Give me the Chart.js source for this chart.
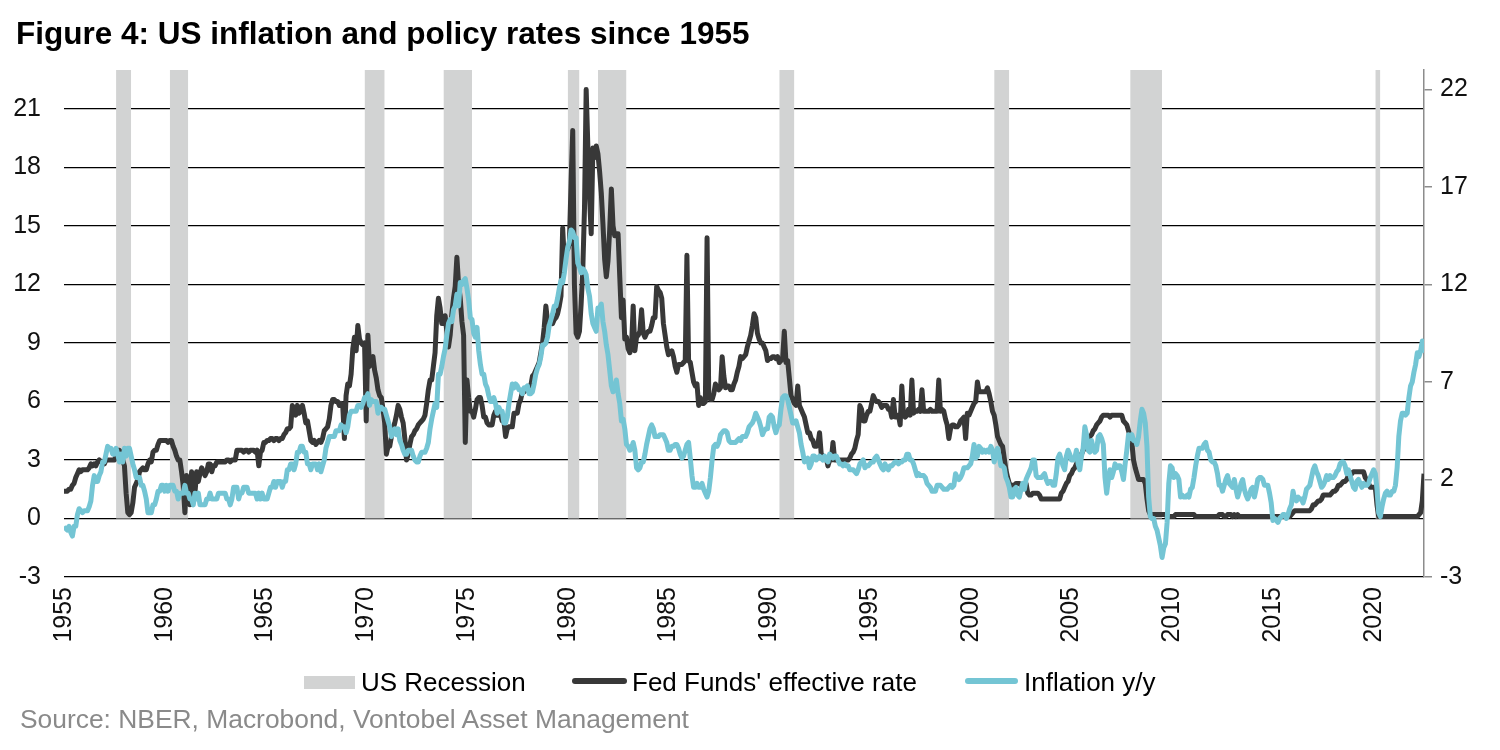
<!DOCTYPE html>
<html>
<head>
<meta charset="utf-8">
<title>US inflation and policy rates since 1955</title>
<script src="https://cdn.jsdelivr.net/npm/chart.js@4.4.0/dist/chart.umd.min.js"></script>
<style>
  body { margin: 0; background: #fff; font-family: 'Liberation Sans', Arial, sans-serif; }
  #wrap { position: relative; width: 1500px; height: 750px; overflow: hidden; }
  #chart { position: absolute; left: 0; top: 0; }
  #title { position: absolute; left: 16px; top: 17px; font-size: 31.5px; line-height: 32px; font-weight: bold; color: #000; white-space: nowrap; }
  .leg { position: absolute; top: 669px; font-size: 26px; line-height: 26px; color: #000; white-space: nowrap; }
  .sw { position: absolute; }
  #source { position: absolute; left: 20px; top: 706px; font-size: 26.4px; line-height: 26px; color: #8a8a8a; white-space: nowrap; }
</style>
</head>
<body>
<div id="wrap">
  <canvas id="chart" width="1500" height="750"></canvas>
  <div id="title">Figure 4: US inflation and policy rates since 1955</div>

  <div class="sw" style="left:304px; top:676px; width:51px; height:13px; background:#d2d3d3;"></div>
  <div class="leg" style="left:361px;">US Recession</div>
  <div class="sw" style="left:572px; top:678px; width:55px; height:6px; border-radius:3px; background:#383838;"></div>
  <div class="leg" style="left:632px;">Fed Funds' effective rate</div>
  <div class="sw" style="left:965px; top:678px; width:53px; height:6px; border-radius:3px; background:#74c5d4;"></div>
  <div class="leg" style="left:1024px;">Inflation y/y</div>

  <div id="source">Source: NBER, Macrobond, Vontobel Asset Management</div>
</div>

<script>
// monthly values, first value = Jan 1955, last = Jul 2022
const START_YEAR = 1955;

const fedFunds = [
  1.4,1.4,1.4,1.5,1.5,1.7,1.8,2.1,2.3,2.5,2.4,2.5,       // 1955
  2.5,2.5,2.5,2.6,2.8,2.7,2.8,2.7,2.9,3.0,2.9,2.9,       // 1956
  2.8,3.0,3.0,3.0,3.0,3.0,3.0,3.2,3.5,3.5,3.3,3.0,       // 1957
  2.7,1.3,0.3,0.2,0.3,0.8,1.6,1.8,2.0,2.4,2.5,2.6,       // 1958
  2.5,2.5,2.8,3.0,2.9,3.4,3.5,3.5,3.8,4.0,4.0,4.0,       // 1959
  4.0,4.0,3.9,4.0,4.0,3.7,3.5,3.2,3.0,3.0,2.4,1.7,       // 1960
  0.3,2.2,1.8,0.7,2.4,2.0,1.3,2.4,1.9,2.3,2.6,2.4,       // 1961
  2.2,2.4,2.8,2.8,2.4,2.7,2.7,2.9,2.9,2.9,2.9,2.9,       // 1962
  2.9,3.0,3.0,2.9,3.0,3.0,3.0,3.5,3.5,3.5,3.5,3.4,       // 1963
  3.5,3.5,3.4,3.5,3.5,3.5,3.4,3.5,2.7,3.4,3.5,3.9,       // 1964
  3.9,4.0,4.0,4.1,4.1,4.0,4.1,4.1,4.0,4.1,4.1,4.3,       // 1965
  4.4,4.6,4.6,4.7,5.8,5.6,5.3,5.8,5.4,5.5,5.8,5.4,       // 1966
  4.9,5.0,4.5,4.0,3.9,4.0,3.8,3.9,4.0,3.9,4.1,4.5,       // 1967
  4.6,4.7,5.1,5.8,6.1,6.1,6.0,6.0,5.8,5.9,5.8,4.1,       // 1968
  6.3,6.9,6.8,7.4,8.7,9.3,8.6,9.9,9.2,9.0,8.9,9.0,       // 1969
  5.0,9.4,7.8,8.1,8.3,7.6,7.2,6.6,6.3,6.2,5.6,4.9,       // 1970
  3.3,3.7,3.7,4.2,4.6,4.9,5.3,5.8,5.6,5.2,4.9,4.1,       // 1971
  3.0,3.3,3.8,4.2,4.3,4.5,4.6,4.8,4.9,5.0,5.1,5.3,       // 1972
  5.9,6.6,7.1,7.1,7.8,8.5,10.4,11.3,10.8,10.0,10.0,10.4, // 1973
  9.6,8.8,9.4,10.5,11.3,11.9,13.4,12.0,11.3,10.1,9.4,3.9, // 1974
  7.1,6.2,5.5,5.5,5.2,5.6,6.1,6.2,6.2,5.8,5.2,5.2,       // 1975
  4.9,4.8,4.8,4.8,5.3,5.5,5.3,5.3,5.3,5.0,5.0,4.2,       // 1976
  4.6,4.7,4.7,4.7,5.4,5.4,5.4,5.9,6.1,6.5,6.5,6.6,       // 1977
  6.7,6.8,6.8,7.3,7.4,7.6,7.8,8.0,8.5,9.0,9.8,10.9,      // 1978
  10.1,10.1,10.1,10.0,10.2,10.3,10.5,10.9,11.4,14.9,13.2,13.8, // 1979
  13.8,14.1,17.2,19.9,12.0,9.5,9.3,9.6,11.0,12.8,15.9,22.0,    // 1980
  19.1,16.5,14.6,19.0,18.5,19.1,18.7,17.8,16.7,15.1,13.3,12.4, // 1981
  13.2,14.8,16.9,15.0,14.5,14.6,14.6,12.4,10.3,11.2,9.2,9.3,   // 1982
  8.7,8.5,8.8,10.9,8.6,9.3,9.4,9.6,10.7,9.5,9.3,9.5,     // 1983
  9.6,9.6,9.9,10.3,10.3,11.9,11.7,11.6,11.3,10.0,9.4,8.8, // 1984
  8.4,8.5,8.6,8.3,7.8,7.5,7.9,7.9,7.9,8.0,8.1,13.5,      // 1985
  8.1,8.0,7.5,7.0,6.8,6.9,5.8,6.2,5.9,5.9,6.0,14.4,      // 1986
  6.4,6.1,6.1,6.4,6.9,6.7,6.6,6.7,8.3,7.3,6.7,6.8,       // 1987
  6.8,6.6,6.6,6.9,7.1,7.5,7.8,8.3,8.2,8.3,8.4,8.8,       // 1988
  9.1,9.4,9.9,10.5,10.3,9.5,9.2,9.0,9.0,8.8,8.6,8.1,     // 1989
  8.2,8.2,8.3,8.3,8.2,8.3,8.0,8.1,8.2,9.6,8.0,8.1,       // 1990
  7.2,6.3,6.1,5.9,5.8,6.8,5.8,5.6,5.4,5.2,4.8,4.4,       // 1991
  4.4,4.1,4.0,3.7,3.7,3.8,4.4,3.3,3.2,3.1,3.1,2.7,       // 1992
  3.0,3.0,3.9,3.0,3.0,3.0,3.0,3.0,3.0,3.0,3.0,3.0,       // 1993
  3.1,3.3,3.4,3.6,4.0,4.3,5.8,5.6,5.0,5.0,5.3,5.5,       // 1994
  5.5,5.9,6.3,6.1,6.0,6.0,5.9,5.7,5.8,5.8,5.8,5.6,       // 1995
  5.6,5.2,6.1,5.2,5.2,5.3,4.8,6.8,5.3,5.2,5.3,5.6,       // 1996
  5.3,7.1,5.4,5.5,5.5,5.6,5.5,6.6,5.5,5.5,5.5,5.5,       // 1997
  5.6,5.5,5.5,5.5,5.5,7.1,5.5,5.6,5.5,5.1,4.8,4.1,       // 1998
  4.6,4.8,4.8,4.7,4.7,4.8,5.0,5.1,5.2,4.1,5.4,5.3,       // 1999
  5.5,5.7,5.9,6.0,7.0,6.5,6.5,6.5,6.5,6.5,6.7,6.4,       // 2000
  6.0,5.5,5.3,4.8,4.2,4.0,3.8,3.7,3.1,2.5,2.1,1.8,       // 2001
  1.7,1.7,1.7,1.8,1.8,1.8,1.7,1.7,1.8,1.8,1.3,1.2,       // 2002
  1.2,1.3,1.3,1.3,1.3,1.2,1.0,1.0,1.0,1.0,1.0,1.0,       // 2003
  1.0,1.0,1.0,1.0,1.0,1.0,1.3,1.4,1.6,1.8,1.9,2.2,       // 2004
  2.3,2.5,2.6,2.8,3.0,3.0,3.3,3.5,3.6,3.8,4.0,4.2,       // 2005
  4.3,4.5,4.6,4.8,4.9,5.0,5.2,5.3,5.3,5.3,5.3,5.2,       // 2006
  5.3,5.3,5.3,5.3,5.3,5.3,5.3,5.0,4.9,4.8,4.5,4.2,       // 2007
  3.9,3.0,2.6,2.3,2.0,2.0,2.0,2.0,1.8,1.0,0.4,0.2,       // 2008
  0.2,0.2,0.2,0.2,0.2,0.2,0.2,0.2,0.2,0.1,0.1,0.1,       // 2009
  0.1,0.1,0.2,0.2,0.2,0.2,0.2,0.2,0.2,0.2,0.2,0.2,       // 2010
  0.2,0.2,0.1,0.1,0.1,0.1,0.1,0.1,0.1,0.1,0.1,0.1,       // 2011
  0.1,0.1,0.1,0.1,0.2,0.2,0.2,0.1,0.1,0.2,0.2,0.2,       // 2012
  0.1,0.2,0.1,0.2,0.1,0.1,0.1,0.1,0.1,0.1,0.1,0.1,       // 2013
  0.1,0.1,0.1,0.1,0.1,0.1,0.1,0.1,0.1,0.1,0.1,0.1,       // 2014
  0.1,0.1,0.1,0.1,0.1,0.1,0.1,0.1,0.1,0.1,0.1,0.2,       // 2015
  0.3,0.4,0.4,0.4,0.4,0.4,0.4,0.4,0.4,0.4,0.4,0.5,       // 2016
  0.7,0.7,0.8,0.9,0.9,1.0,1.2,1.2,1.2,1.2,1.2,1.3,       // 2017
  1.4,1.4,1.5,1.7,1.7,1.8,1.9,1.9,2.0,2.2,2.2,2.3,       // 2018
  2.4,2.4,2.4,2.4,2.4,2.4,2.4,2.1,2.0,1.8,1.6,1.6,       // 2019
  1.6,1.6,0.7,0.1,0.1,0.1,0.1,0.1,0.1,0.1,0.1,0.1,       // 2020
  0.1,0.1,0.1,0.1,0.1,0.1,0.1,0.1,0.1,0.1,0.1,0.1,       // 2021
  0.1,0.1,0.1,0.2,0.3,0.9,2.3                            // 2022
];

const inflation = [
  -0.6,-0.5,-0.6,-0.4,-0.7,-0.9,-0.4,-0.4,0.2,0.5,0.4,0.3, // 1955
  0.4,0.4,0.4,0.6,0.9,1.7,2.2,1.9,1.9,2.2,2.4,2.9,       // 1956
  2.9,3.3,3.7,3.6,3.6,3.3,3.3,3.6,3.3,2.9,3.3,2.9,       // 1957
  3.6,3.2,3.6,3.6,3.2,2.8,2.5,2.1,2.1,2.1,1.7,1.7,       // 1958
  1.4,1.0,0.3,0.3,0.3,0.7,0.7,1.0,1.4,1.4,1.7,1.7,       // 1959
  1.4,1.7,1.4,1.7,1.7,1.7,1.4,1.4,1.0,1.3,1.3,1.3,       // 1960
  1.7,1.3,1.3,1.0,1.0,0.7,1.3,1.0,1.3,0.7,0.7,0.7,       // 1961
  0.7,1.0,1.0,1.3,1.0,1.0,1.0,1.0,1.3,1.3,1.3,1.3,       // 1962
  1.3,1.0,1.0,0.7,1.0,1.6,1.6,1.6,1.0,1.3,1.3,1.6,       // 1963
  1.6,1.6,1.3,1.3,1.3,1.3,1.3,1.0,1.3,1.0,1.3,1.0,       // 1964
  1.0,1.0,1.3,1.6,1.6,1.9,1.6,1.9,1.9,1.9,1.6,1.9,       // 1965
  1.9,2.5,2.5,2.8,2.8,2.5,2.8,3.4,3.4,3.7,3.7,3.4,       // 1966
  3.4,2.8,2.8,2.5,2.8,2.8,2.8,2.5,2.8,2.4,2.7,3.0,       // 1967
  3.6,3.9,4.2,4.2,4.2,4.2,4.5,4.5,4.5,4.8,4.7,4.7,       // 1968
  4.4,4.7,5.3,5.5,5.5,5.5,5.5,5.8,5.8,5.7,5.9,6.2,       // 1969
  6.2,6.4,5.8,6.1,6.0,6.0,6.0,5.4,5.7,5.7,5.6,5.6,       // 1970
  5.3,5.0,4.7,4.2,4.4,4.6,4.3,4.6,4.0,3.8,3.5,3.3,       // 1971
  3.3,3.5,3.5,3.5,3.2,3.0,2.9,2.9,3.2,3.4,3.4,3.4,       // 1972
  3.6,3.9,4.6,5.1,5.5,5.9,5.7,7.4,7.4,7.8,8.3,8.7,       // 1973
  9.4,10.0,10.2,10.1,10.7,10.9,11.5,10.9,12.1,12.0,12.2,12.3, // 1974
  11.8,11.2,10.3,10.2,9.5,9.3,9.8,8.6,7.9,7.4,7.4,6.9,   // 1975
  6.7,6.3,6.0,6.0,6.2,5.9,5.4,5.7,5.5,5.5,4.9,4.9,       // 1976
  5.2,5.9,6.4,6.9,6.7,6.9,6.8,6.6,6.6,6.4,6.7,6.7,       // 1977
  6.8,6.4,6.4,6.5,6.9,7.4,7.7,7.9,8.3,8.9,8.9,9.0,       // 1978
  9.3,9.9,10.2,10.5,10.9,10.9,11.3,11.8,12.2,12.1,12.6,13.3, // 1979
  13.9,14.2,14.8,14.7,14.4,14.4,13.1,12.9,12.6,12.8,12.7,12.5, // 1980
  11.8,11.4,10.5,10.0,9.8,9.6,10.8,10.8,11.0,10.1,9.6,8.9, // 1981
  8.4,7.6,6.8,6.5,6.7,7.1,6.4,5.9,5.0,5.1,4.6,3.8,       // 1982
  3.7,3.5,3.6,3.9,3.5,2.6,2.5,2.6,2.9,2.9,3.3,3.8,       // 1983
  4.2,4.6,4.8,4.6,4.2,4.2,4.2,4.3,4.3,4.3,4.1,3.9,       // 1984
  3.5,3.5,3.7,3.7,3.8,3.8,3.6,3.3,3.1,3.2,3.5,3.8,       // 1985
  3.9,3.1,2.2,1.6,1.6,1.8,1.6,1.6,1.8,1.5,1.3,1.1,       // 1986
  1.4,2.1,3.0,3.7,3.8,3.7,3.9,4.3,4.4,4.5,4.5,4.4,       // 1987
  4.0,3.9,3.9,3.9,3.9,4.0,4.1,4.0,4.2,4.2,4.2,4.4,       // 1988
  4.7,4.8,4.9,5.1,5.4,5.2,5.0,4.7,4.3,4.5,4.6,4.6,       // 1989
  5.2,5.3,5.2,4.7,4.4,4.7,4.8,5.6,6.2,6.3,6.3,6.1,       // 1990
  5.7,5.3,4.9,4.9,5.0,4.7,4.4,3.8,3.4,2.9,3.0,3.1,       // 1991
  2.6,2.8,3.2,3.2,3.0,3.1,3.2,3.1,3.0,3.2,3.0,2.9,       // 1992
  3.3,3.2,3.1,3.2,3.2,3.0,2.8,2.8,2.7,2.8,2.7,2.7,       // 1993
  2.5,2.5,2.5,2.4,2.3,2.5,2.8,2.9,3.0,2.6,2.7,2.7,       // 1994
  2.8,2.9,2.9,3.1,3.2,3.0,2.8,2.6,2.5,2.8,2.6,2.5,       // 1995
  2.7,2.7,2.8,2.9,2.9,2.8,2.9,2.9,3.0,3.0,3.3,3.3,       // 1996
  3.0,3.0,2.8,2.5,2.2,2.3,2.2,2.2,2.2,2.1,1.8,1.7,       // 1997
  1.6,1.4,1.4,1.4,1.7,1.7,1.7,1.6,1.5,1.5,1.5,1.6,       // 1998
  1.7,1.6,1.7,2.3,2.1,2.0,2.1,2.3,2.6,2.6,2.6,2.7,       // 1999
  2.8,3.2,3.8,3.1,3.2,3.7,3.6,3.4,3.5,3.4,3.5,3.4,       // 2000
  3.7,3.5,2.9,3.3,3.6,3.2,2.7,2.7,2.6,2.1,1.9,1.6,       // 2001
  1.1,1.1,1.5,1.6,1.2,1.1,1.5,1.8,1.5,2.0,2.2,2.4,       // 2002
  2.6,3.0,3.0,2.2,2.1,2.1,2.1,2.2,2.3,2.0,1.8,1.9,       // 2003
  1.9,1.7,1.7,2.3,3.1,3.3,3.0,2.7,2.5,3.2,3.5,3.3,       // 2004
  3.0,3.0,3.1,3.5,2.8,2.5,3.2,3.6,4.7,4.3,3.5,3.4,       // 2005
  4.0,3.6,3.4,3.5,4.2,4.3,4.1,3.8,2.1,1.3,2.0,2.5,       // 2006
  2.1,2.4,2.8,2.6,2.7,2.7,2.4,2.0,2.8,3.5,4.3,4.1,       // 2007
  4.3,4.0,4.0,3.8,4.2,5.0,5.6,5.4,4.9,3.7,1.1,0.1,       // 2008
  0.0,0.0,-0.4,-0.6,-1.0,-1.4,-2.0,-1.5,-1.3,-0.2,1.8,2.7, // 2009
  2.6,2.1,2.3,2.2,2.0,1.1,1.2,1.1,1.1,1.2,1.1,1.5,       // 2010
  1.6,2.1,2.7,3.2,3.6,3.6,3.6,3.8,3.9,3.5,3.4,3.0,       // 2011
  2.9,2.9,2.7,2.3,1.7,1.7,1.4,1.7,2.0,2.2,1.8,1.7,       // 2012
  1.6,2.0,1.5,1.1,1.4,1.8,2.0,1.5,1.2,1.0,1.2,1.5,       // 2013
  1.6,1.1,1.5,2.0,2.1,2.1,2.0,1.7,1.7,1.7,1.3,0.8,       // 2014
  -0.1,0.0,-0.1,-0.2,0.0,0.1,0.2,0.2,0.0,0.2,0.5,0.7,    // 2015
  1.4,1.0,0.9,1.1,1.0,1.0,0.8,1.1,1.5,1.6,1.7,2.1,       // 2016
  2.5,2.7,2.4,2.2,1.9,1.6,1.7,1.9,2.2,2.0,2.2,2.1,       // 2017
  2.1,2.2,2.4,2.5,2.8,2.9,2.9,2.7,2.3,2.5,2.2,1.9,       // 2018
  1.6,1.5,1.9,2.0,1.8,1.6,1.8,1.7,1.7,1.8,2.1,2.3,       // 2019
  2.5,2.3,1.5,0.3,0.1,0.6,1.0,1.3,1.4,1.2,1.2,1.4,       // 2020
  1.4,1.7,2.6,4.2,5.0,5.4,5.4,5.3,5.4,6.2,6.8,7.0,       // 2021
  7.5,7.9,8.5,8.3,8.6,9.1,8.5                            // 2022
];

// NBER recessions, peak month to trough month
const recessions = [
  ['1957-08', '1958-04'],
  ['1960-04', '1961-02'],
  ['1969-12', '1970-11'],
  ['1973-11', '1975-03'],
  ['1980-01', '1980-07'],
  ['1981-07', '1982-11'],
  ['1990-07', '1991-03'],
  ['2001-03', '2001-11'],
  ['2007-12', '2009-06'],
  ['2020-02', '2020-04']
];

const leftTicks = [-3, 0, 3, 6, 9, 12, 15, 18, 21];
const rightTicks = [-3, 2, 7, 12, 17, 22];
const yearTicks = [1955, 1960, 1965, 1970, 1975, 1980, 1985, 1990, 1995, 2000, 2005, 2010, 2015, 2020];

const Y_MIN = -3;
const Y_MAX = 23;

function toYear(s) {
  const [y, m] = s.split('-').map(Number);
  return y + (m - 1) / 12;
}

const monthly = arr => arr.map((v, i) => ({ x: START_YEAR + i / 12, y: v }));

// each recession is a flat segment at the top, filled down to zero, split by a null point
const recessionPoints = [];
recessions.forEach(([from, to]) => {
  const x0 = toYear(from);
  const x1 = toYear(to) + 1 / 12;
  recessionPoints.push({ x: x0, y: Y_MAX }, { x: x1, y: Y_MAX }, { x: x1, y: null });
});

const tickFont = { family: "'Liberation Sans', Arial, sans-serif", size: 25 };
const lastX = START_YEAR + (fedFunds.length - 1) / 12;

new Chart(document.getElementById('chart'), {
  type: 'line',
  data: {
    datasets: [
      {
        label: 'Inflation y/y',
        data: monthly(inflation),
        yAxisID: 'y1',
        borderColor: '#74c5d4',
        borderWidth: 5,
        borderJoinStyle: 'round',
        pointRadius: 0,
        fill: false,
        order: 1
      },
      {
        label: "Fed Funds' effective rate",
        data: monthly(fedFunds),
        yAxisID: 'y',
        borderColor: '#383838',
        borderWidth: 5,
        borderJoinStyle: 'round',
        pointRadius: 0,
        fill: false,
        order: 2
      },
      {
        label: 'US Recession',
        data: recessionPoints,
        yAxisID: 'y',
        borderWidth: 0,
        borderColor: 'rgba(0,0,0,0)',
        backgroundColor: '#d2d3d3',
        pointRadius: 0,
        spanGaps: false,
        fill: { value: 0 },
        order: 3
      }
    ]
  },
  options: {
    responsive: false,
    animation: false,
    devicePixelRatio: 1,
    layout: { padding: { top: 70, left: 0, right: 0, bottom: 0 } },
    plugins: {
      legend: { display: false },
      tooltip: { enabled: false },
      title: { display: false }
    },
    scales: {
      x: {
        type: 'linear',
        min: START_YEAR,
        max: lastX,
        afterBuildTicks: s => { s.ticks = yearTicks.map(v => ({ value: v })); },
        afterFit: s => { s.height = 173; },
        grid: { display: false, drawTicks: false },
        border: { display: false },
        ticks: {
          autoSkip: false,
          minRotation: 90,
          maxRotation: 90,
          padding: 10,
          color: '#111',
          font: tickFont,
          callback: v => String(v)
        }
      },
      y: {
        position: 'left',
        min: Y_MIN,
        max: Y_MAX,
        afterBuildTicks: s => { s.ticks = leftTicks.map(v => ({ value: v })); },
        afterFit: s => { s.width = 64; },
        grid: { color: '#000', lineWidth: 1.3, drawTicks: false },
        border: { display: false },
        ticks: { padding: 23, color: '#111', font: tickFont }
      },
      y1: {
        position: 'right',
        min: Y_MIN,
        max: Y_MAX,
        afterBuildTicks: s => { s.ticks = rightTicks.map(v => ({ value: v })); },
        afterFit: s => { s.width = 76; },
        grid: { drawOnChartArea: false, drawTicks: true, tickLength: 8, color: '#8c8c8c', lineWidth: 1.5 },
        border: { display: true, color: '#8c8c8c', width: 1.5 },
        ticks: { padding: 8, color: '#111', font: tickFont }
      }
    }
  }
});
</script>
</body>
</html>
